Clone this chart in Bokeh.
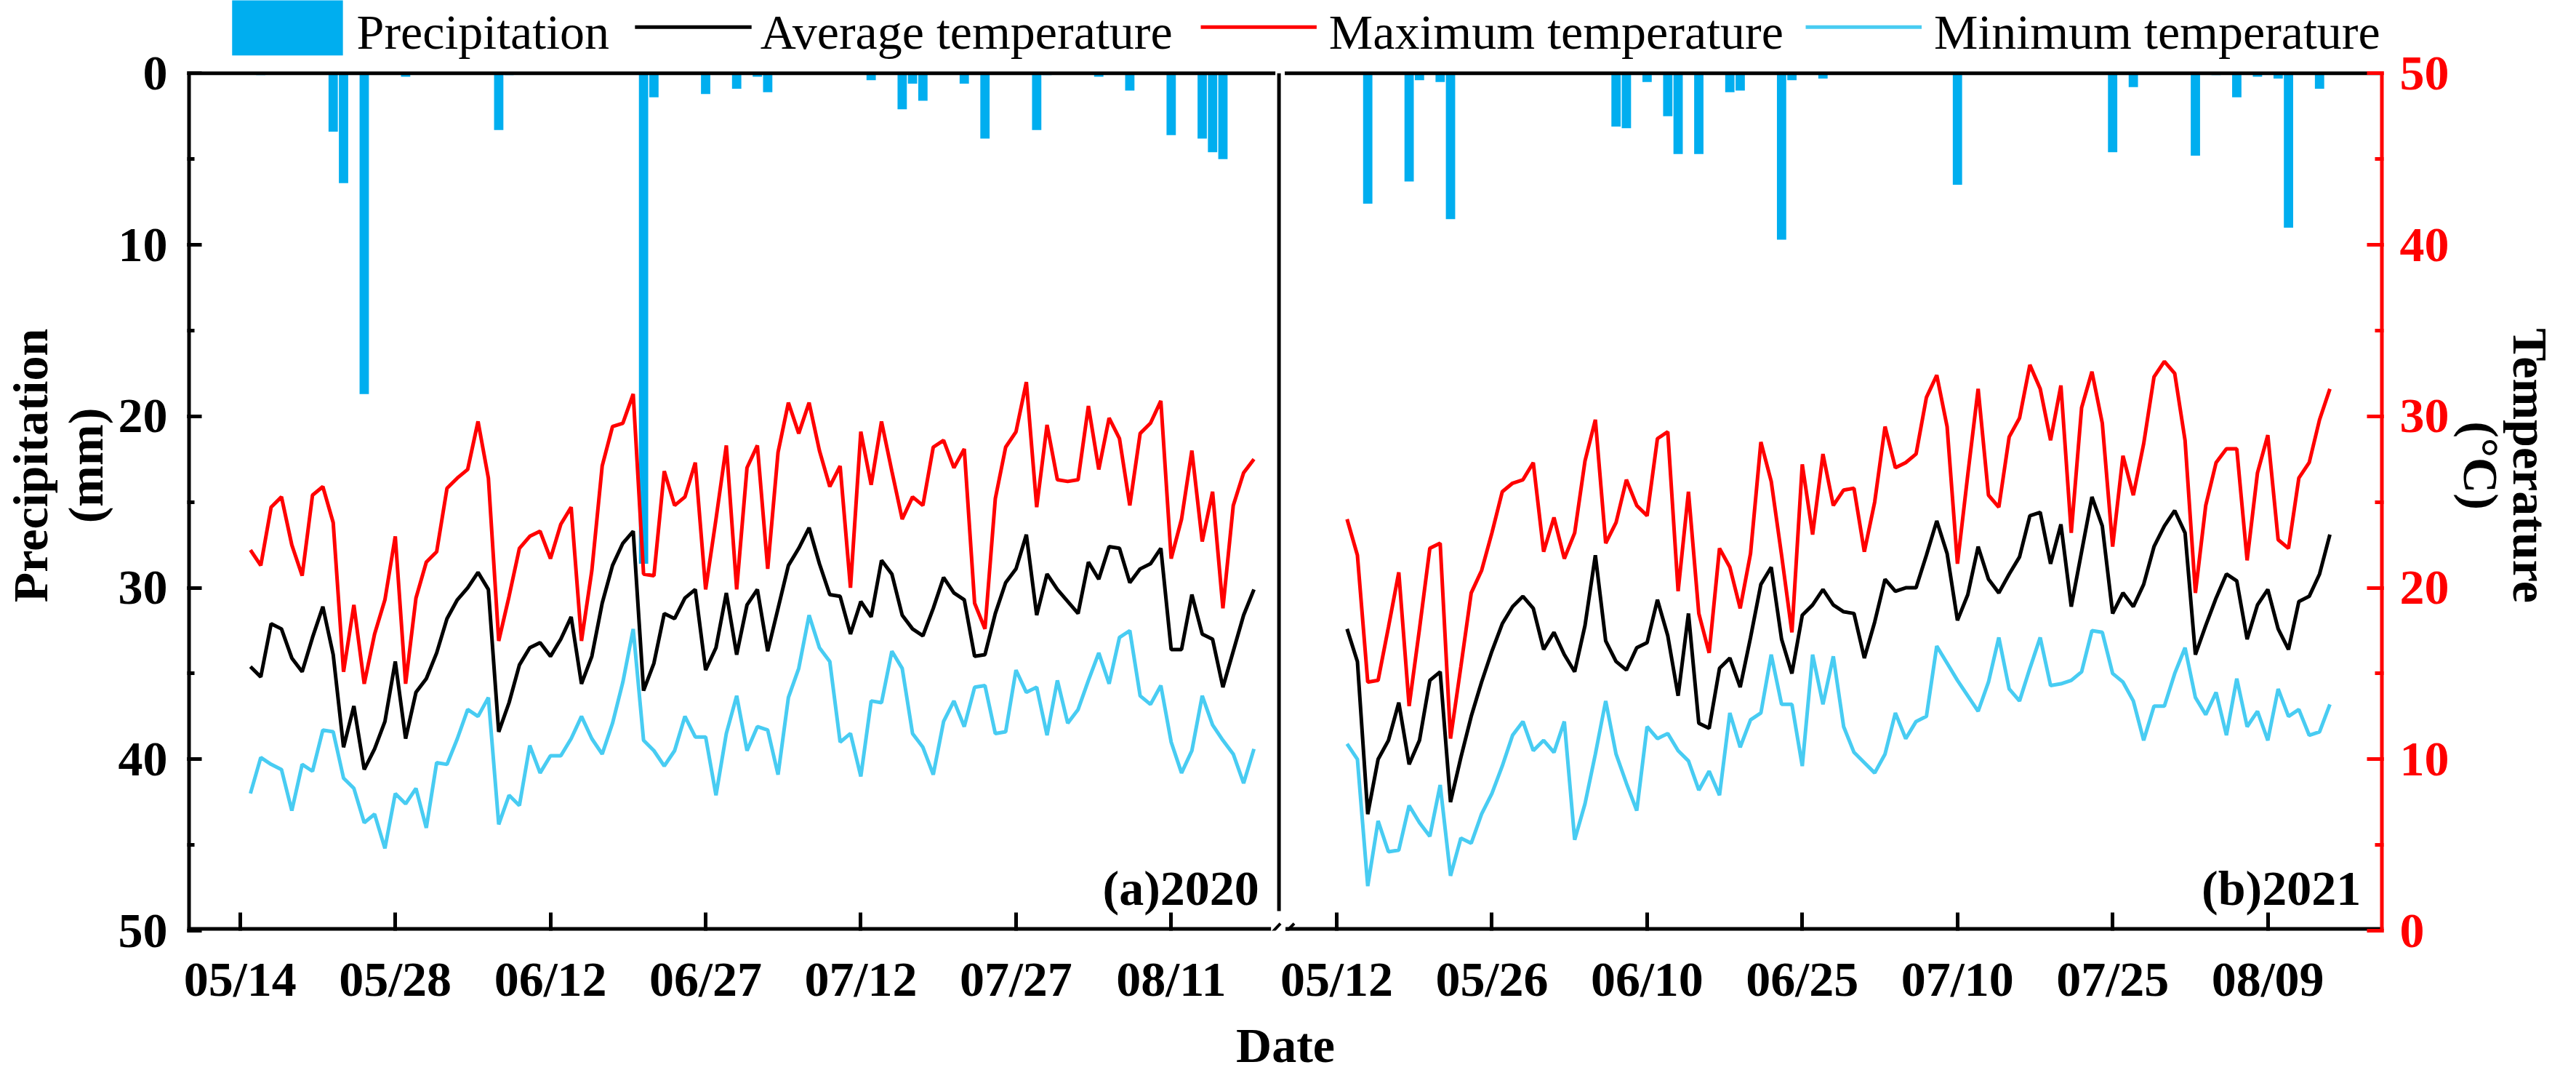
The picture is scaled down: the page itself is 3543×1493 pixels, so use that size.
from bokeh.plotting import figure
from bokeh.models import Range1d, LinearAxis, FixedTicker, SingleIntervalTicker, Label
from bokeh.core.properties import value
from bokeh.embed import file_html
from bokeh.resources import INLINE

# daily series, day 1 = first day after the first tick of each season
tmax_2020 = [22.2, 21.3, 24.7, 25.3, 22.5, 20.7, 25.4, 25.9, 23.8, 15.1,
             19.0, 14.4, 17.3, 19.3, 23.0, 14.4, 19.4, 21.5, 22.1, 25.8,
             26.4, 26.9, 29.7, 26.4, 16.9, 19.5, 22.3, 23.0, 23.3, 21.7,
             23.7, 24.7, 16.9, 21.0, 27.1, 29.4, 29.6, 31.3, 20.8, 20.7,
             26.8, 24.8, 25.3, 27.3, 19.9, 24.0, 28.3, 19.9, 27.0, 28.3,
             21.1, 27.9, 30.8, 29.0, 30.8, 28.0, 25.9, 27.1, 20.0, 29.1,
             26.0, 29.7, 26.8, 24.0, 25.3, 24.8, 28.2, 28.6, 27.0, 28.1,
             19.1, 17.6, 25.2, 28.2, 29.1, 32.0, 24.7, 29.5, 26.3, 26.2,
             26.3, 30.6, 26.9, 29.9, 28.7, 24.8, 29.0, 29.6, 30.9, 21.7,
             24.0, 28.0, 22.7, 25.6, 18.8, 24.8, 26.7, 27.5]
tavg_2020 = [15.4, 14.8, 17.9, 17.6, 15.9, 15.1, 17.1, 18.9, 16.1, 10.7,
             13.1, 9.4, 10.6, 12.2, 15.7, 11.2, 13.9, 14.7, 16.2, 18.2,
             19.3, 20.0, 20.9, 19.9, 11.6, 13.3, 15.5, 16.5, 16.8, 16.0,
             17.0, 18.3, 14.4, 16.0, 19.1, 21.3, 22.6, 23.3, 14.0, 15.6,
             18.5, 18.2, 19.4, 19.9, 15.2, 16.5, 19.7, 16.1, 19.0, 19.9,
             16.3, 18.8, 21.3, 22.3, 23.5, 21.4, 19.6, 19.5, 17.3, 19.2,
             18.3, 21.6, 20.8, 18.4, 17.6, 17.2, 18.8, 20.6, 19.7, 19.3,
             16.0, 16.1, 18.5, 20.3, 21.1, 23.1, 18.4, 20.8, 19.9, 19.2,
             18.5, 21.5, 20.5, 22.4, 22.3, 20.3, 21.1, 21.4, 22.3, 16.4,
             16.4, 19.6, 17.3, 17.0, 14.2, 16.3, 18.4, 19.9]
tmin_2020 = [8.0, 10.1, 9.7, 9.4, 7.0, 9.7, 9.3, 11.7, 11.6, 8.9,
             8.3, 6.3, 6.8, 4.8, 8.0, 7.4, 8.3, 6.0, 9.8, 9.7,
             11.2, 12.9, 12.5, 13.6, 6.2, 7.9, 7.3, 10.8, 9.2, 10.2,
             10.2, 11.2, 12.5, 11.2, 10.3, 12.1, 14.5, 17.6, 11.1, 10.5,
             9.6, 10.5, 12.5, 11.3, 11.3, 7.9, 11.5, 13.7, 10.5, 11.9,
             11.7, 9.1, 13.6, 15.3, 18.4, 16.5, 15.7, 11.0, 11.5, 9.0,
             13.4, 13.3, 16.3, 15.3, 11.5, 10.7, 9.1, 12.2, 13.4, 11.9,
             14.2, 14.3, 11.5, 11.6, 15.2, 13.9, 14.2, 11.4, 14.6, 12.1,
             12.9, 14.6, 16.2, 14.4, 17.1, 17.5, 13.7, 13.2, 14.3, 11.0,
             9.2, 10.5, 13.7, 12.0, 11.1, 10.3, 8.6, 10.6]

tmax_2021 = [24.0, 21.9, 14.5, 14.6, 17.7, 20.9, 13.1, 17.6, 22.3, 22.6,
             11.2, 15.4, 19.7, 21.0, 23.2, 25.6, 26.1, 26.3, 27.3, 22.1,
             24.1, 21.7, 23.2, 27.4, 29.8, 22.6, 23.8, 26.3, 24.8, 24.2,
             28.7, 29.1, 19.8, 25.6, 18.5, 16.2, 22.3, 21.2, 18.8, 22.0,
             28.5, 26.2, 21.9, 17.4, 27.2, 23.1, 27.8, 24.8, 25.7, 25.8,
             22.1, 25.0, 29.4, 27.0, 27.3, 27.8, 31.1, 32.4, 29.4, 21.4,
             26.6, 31.6, 25.4, 24.7, 28.8, 29.9, 33.0, 31.6, 28.6, 31.8,
             23.2, 30.5, 32.6, 29.6, 22.4, 27.7, 25.4, 28.4, 32.3, 33.2,
             32.5, 28.6, 19.7, 24.8, 27.3, 28.1, 28.1, 21.6, 26.7, 28.9,
             22.8, 22.3, 26.4, 27.3, 29.8, 31.6]
tavg_2021 = [17.6, 15.7, 6.8, 10.0, 11.1, 13.3, 9.7, 11.1, 14.6, 15.1,
             7.5, 10.1, 12.5, 14.5, 16.3, 17.9, 18.9, 19.5, 18.8, 16.4,
             17.4, 16.1, 15.1, 17.8, 21.9, 16.9, 15.7, 15.2, 16.5, 16.8,
             19.3, 17.2, 13.7, 18.5, 12.1, 11.8, 15.3, 15.9, 14.2, 17.1,
             20.2, 21.2, 17.0, 15.0, 18.4, 19.0, 19.9, 19.0, 18.6, 18.5,
             15.9, 18.0, 20.5, 19.8, 20.0, 20.0, 21.9, 23.9, 22.0, 18.1,
             19.6, 22.4, 20.5, 19.7, 20.8, 21.8, 24.2, 24.4, 21.4, 23.7,
             18.9, 22.1, 25.3, 23.6, 18.5, 19.7, 18.9, 20.2, 22.4, 23.6,
             24.5, 23.2, 16.1, 17.8, 19.4, 20.8, 20.4, 17.0, 19.0, 19.9,
             17.6, 16.4, 19.2, 19.5, 20.8, 23.1]
tmin_2021 = [10.9, 10.0, 2.6, 6.4, 4.6, 4.7, 7.3, 6.3, 5.5, 8.5,
             3.2, 5.4, 5.1, 6.8, 8.0, 9.6, 11.4, 12.2, 10.5, 11.1,
             10.4, 12.2, 5.3, 7.4, 10.3, 13.4, 10.3, 8.6, 7.0, 11.9,
             11.2, 11.5, 10.5, 9.9, 8.2, 9.3, 7.9, 12.7, 10.7, 12.3,
             12.7, 16.1, 13.2, 13.2, 9.6, 16.1, 13.2, 16.0, 11.9, 10.4,
             9.8, 9.2, 10.3, 12.7, 11.2, 12.2, 12.5, 16.6, 15.6, 14.6,
             13.7, 12.8, 14.5, 17.1, 14.1, 13.4, 15.3, 17.1, 14.3, 14.4,
             14.6, 15.1, 17.5, 17.4, 15.0, 14.5, 13.4, 11.1, 13.1, 13.1,
             15.0, 16.5, 13.6, 12.6, 13.9, 11.4, 14.7, 11.9, 12.8, 11.1,
             14.1, 12.5, 12.9, 11.4, 11.6, 13.2]

rain_days_2020 = [2, 9, 10, 12, 16, 25, 26, 39, 40, 45, 48, 50, 51, 61, 64, 65,
                  66, 70, 72, 77, 78, 83, 86, 90, 93, 94, 95]
rain_mm_2020 = [0.1, 3.4, 6.4, 18.7, 0.2, 3.3, 0.1, 28.6, 1.4, 1.2, 0.9, 0.2, 1.1,
                0.4, 2.1, 0.6, 1.6, 0.6, 3.8, 3.3, 0.1, 0.2, 1.0, 3.6, 3.8, 4.6, 5.0]
rain_days_2021 = [3, 7, 8, 10, 11, 27, 28, 30, 32, 33, 35, 38, 39, 43, 44, 47, 60,
                  75, 77, 83, 85, 87, 89, 91, 92, 95]
rain_mm_2021 = [7.6, 6.3, 0.4, 0.5, 8.5, 3.1, 3.2, 0.5, 2.5, 4.7, 4.7, 1.1, 1.0,
                9.7, 0.4, 0.3, 6.5, 4.6, 0.8, 4.8, 0.1, 1.4, 0.2, 0.3, 9.0, 0.9]

tick_labels_2020 = ["05/14", "05/28", "06/12", "06/27", "07/12", "07/27", "08/11"]
tick_labels_2021 = ["05/12", "05/26", "06/10", "06/25", "07/10", "07/25", "08/09"]

legend_names = ["Precipitation", "Average temperature", "Maximum temperature",
                "Minimum temperature"]

OFFSET = 106   # where the 2021 panel starts on the shared x scale
FONT = "Liberation Serif"
BLUE = "#00aeef"
LIGHT = "#48ccf2"
legend_colors = [BLUE, "black", "red", LIGHT]

X0, X1 = -5.11, 207.2
TOP = -4.258   # the frame reaches up to the canvas top so the legend row sits inside it

p = figure(width=3527, height=1477, x_range=Range1d(X0, X1), y_range=Range1d(50, TOP),
           x_axis_type=None, y_axis_type=None, output_backend="svg", toolbar_location=None,
           min_border_left=246, min_border_right=249, min_border_top=0, min_border_bottom=190)
p.title.visible = False
p.outline_line_color = None
p.extra_y_ranges = {"temp": Range1d(0, 50 - TOP)}

# precipitation hangs from the top
rx = rain_days_2020 + [d + OFFSET for d in rain_days_2021]
p.vbar(x=rx, top=rain_mm_2020 + rain_mm_2021, bottom=0, width=0.9,
       fill_color=BLUE, line_color=None)

d20 = list(range(1, len(tavg_2020) + 1))
d21 = [d + OFFSET for d in range(1, len(tavg_2021) + 1)]
lw = 5
for ys20, ys21, col in [(tmax_2020, tmax_2021, "red"), (tavg_2020, tavg_2021, "black"),
                        (tmin_2020, tmin_2021, LIGHT)]:
    p.line(d20, ys20, y_range_name="temp", color=col, line_width=lw)
    p.line(d21, ys21, y_range_name="temp", color=col, line_width=lw)

# box lines: top line with a gap at the divider, bottom line with the axis break
p.segment(x0=[X0, 100.98], y0=[0, 0], x1=[100.07, X1], y1=[0, 0], color="black", line_width=5)
p.segment(x0=[X0, 101.05], y0=[50, 50], x1=[99.65, X1], y1=[50, 50], color="black", line_width=10)
p.segment(x0=[X0], y0=[0], x1=[X0], y1=[50], color="black", line_width=10)
p.segment(x0=[X1], y0=[0], x1=[X1], y1=[50], color="red", line_width=10)
p.segment(x0=[100.42], y0=[0], x1=[100.42], y1=[48.85], color="black", line_width=5)
p.segment(x0=[98.74, 100.0], y0=[50.76, 50.76], x1=[100.56, 101.89], y1=[49.58, 49.58],
          color="black", line_width=4)


def style_axis(ax, color):
    ax.axis_line_color = None
    ax.major_tick_line_color = color
    ax.minor_tick_line_color = color
    ax.major_tick_line_width = 5
    ax.minor_tick_line_width = 5
    ax.major_tick_out = 0
    ax.minor_tick_out = 0
    ax.major_label_text_font = FONT
    ax.major_label_text_font_style = "bold"
    ax.major_label_text_font_size = "68px"
    ax.major_label_text_color = color
    ax.axis_label_text_font = FONT
    ax.axis_label_text_font_style = "bold"
    ax.axis_label_text_font_size = "68px"
    ax.axis_label_text_color = "black"
    ax.axis_label_text_line_height = 1.0


left = LinearAxis(ticker=SingleIntervalTicker(interval=10, num_minor_ticks=2),
                  axis_label="Precipitation\n(mm)")
style_axis(left, "black")
left.major_tick_in = 20
left.minor_tick_in = 10
left.major_label_standoff = 27
left.axis_label_standoff = 4
p.add_layout(left, "left")

right = LinearAxis(y_range_name="temp", ticker=SingleIntervalTicker(interval=10, num_minor_ticks=2),
                   axis_label="Temperature\n(°C)")
style_axis(right, "red")
right.axis_label_text_line_height = 0.9
right.major_tick_in = 23
right.minor_tick_in = 12
right.major_label_standoff = 22
right.axis_label_standoff = 2
p.add_layout(right, "right")

ticks = [15 * i for i in range(7)] + [OFFSET + 15 * i for i in range(7)]
bottom = LinearAxis(ticker=FixedTicker(ticks=ticks), axis_label="Date")
style_axis(bottom, "black")
bottom.major_label_overrides = dict(zip(ticks, tick_labels_2020 + tick_labels_2021))
bottom.major_tick_in = 25
bottom.major_label_standoff = 28
bottom.axis_label_standoff = 12
p.add_layout(bottom, "below")

for txt, xpos in [("(a)2020", 98.5), ("(b)2021", 205.0)]:
    p.add_layout(Label(x=xpos, y=47.5, text=txt, text_align="right", text_baseline="alphabetic",
                       text_font=FONT, text_font_style="bold", text_font_size="68px",
                       text_color="black"))

# legend row: key sample start/end and text start, on the x scale
key_x0 = [-0.77, 38.17, 92.86, 151.33]
key_x1 = [9.94, 49.44, 104.06, 162.54]
text_x = [11.27, 50.28, 105.25, 163.73]
key_w = [78, lw, lw, lw]
ky = [-2.70] * 4
p.segment(x0=key_x0, y0=ky, x1=key_x1, y1=ky, line_color=legend_colors, line_width=key_w)
p.text(x=text_x, y=[-2.42] * 4, text=legend_names, text_align="left", text_baseline="middle",
       text_font=value(FONT), text_font_size=value("68px"), text_color="black")

open("out.html", "w").write(file_html(p, INLINE))
